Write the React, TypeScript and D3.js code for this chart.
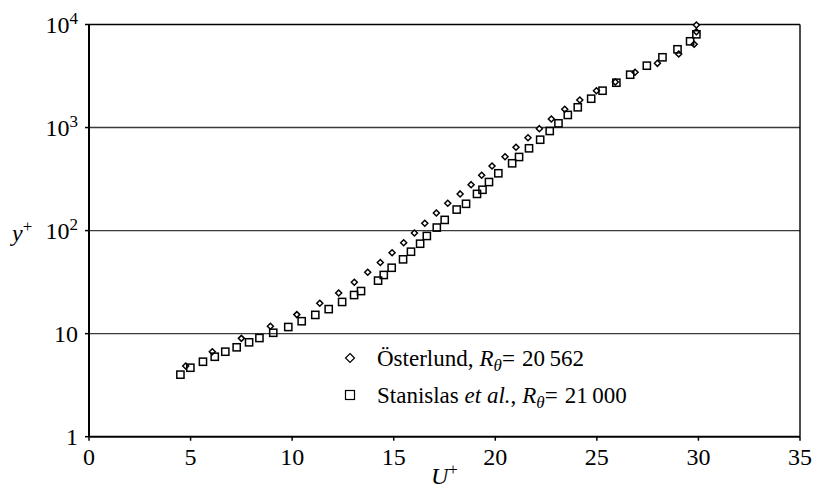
import * as d3 from 'd3';

// Österlund data (diamonds): U+ , y+
const osterU = [4.76, 6.07, 7.5, 8.93, 10.23, 11.36, 12.29, 13.06, 13.72, 14.34, 14.92, 15.49, 16.02, 16.53, 17.1, 17.66, 18.27, 18.81, 19.33, 19.84, 20.48, 21.02, 21.61, 22.17, 22.76, 23.42, 24.16, 24.98, 25.91, 26.88, 27.98, 29.03, 29.79, 29.9, 29.9];
const osterY = [4.86, 6.68, 9.0, 11.8, 15.3, 19.7, 24.8, 31.5, 39.4, 49, 61, 76.3, 94.8, 118, 148, 184, 227, 279, 344, 424, 521, 643, 797, 975, 1211, 1504, 1850, 2278, 2768, 3437, 4200, 5175, 6425, 8510, 9890];

// Stanislas et al. data (squares)
const stanU = [4.5, 4.99, 5.61, 6.19, 6.71, 7.27, 7.88, 8.39, 9.07, 9.81, 10.47, 11.14, 11.8, 12.46, 13.05, 13.39, 14.23, 14.51, 14.9, 15.46, 15.85, 16.3, 16.63, 17.12, 17.51, 18.1, 18.56, 19.1, 19.37, 19.69, 20.15, 20.83, 21.17, 21.66, 22.21, 22.68, 23.11, 23.57, 24.06, 24.72, 25.28, 25.96, 26.64, 27.46, 28.23, 28.97, 29.59, 29.9];
const stanY = [4.0, 4.67, 5.34, 5.97, 6.68, 7.37, 8.24, 9.07, 10.2, 11.6, 13.2, 15.2, 17.3, 20.3, 23.7, 25.9, 32.7, 37.1, 43.6, 52.6, 62.4, 74.6, 88.7, 107, 127, 160, 182, 227, 249, 296, 360, 450, 518, 629, 762, 926, 1099, 1325, 1572, 1905, 2278, 2724, 3258, 3985, 4805, 5745, 6870, 8035];

const xTicks = [0, 5, 10, 15, 20, 25, 30, 35];
const yTicks = [1, 10, 100, 1000, 10000];
const yTickLabels = [['1', ''], ['10', ''], ['10', '2'], ['10', '3'], ['10', '4']];

const font = 'Times New Roman, Liberation Serif, Tinos, DejaVu Serif, serif';

export default function App() {
  const width = 813;
  const height = 489;
  const margin = { left: 89, right: 13, top: 24.5, bottom: 52.3 };

  const x = d3.scaleLinear().domain([0, 35]).range([margin.left, width - margin.right]);
  const y = d3.scaleLog().domain([1, 10000]).range([height - margin.bottom, margin.top]);

  const x0 = x(0);
  const x1 = x(35);
  const yb = y(1);
  const yt = y(10000);

  return (
    <div style={{ position: 'absolute', left: 0, top: 0, fontFamily: font }}>
      <svg width={width} height={height} style={{ display: 'block', background: 'white' }}>
        {/* gridlines */}
        {[10, 100, 1000].map((v) => (
          <line key={v} x1={x0} x2={x1} y1={y(v)} y2={y(v)} stroke="#3a3a3a" strokeWidth={1.4} />
        ))}
        {/* frame */}
        <line x1={x0} x2={x1} y1={yt} y2={yt} stroke="#000" strokeWidth={1.6} />
        <line x1={x1} x2={x1} y1={yt} y2={yb} stroke="#000" strokeWidth={1.4} />
        <line x1={x0} x2={x0} y1={yt} y2={yb} stroke="#000" strokeWidth={2} />
        <line x1={x0} x2={x1} y1={yb} y2={yb} stroke="#000" strokeWidth={2} />

        {/* x ticks */}
        {xTicks.map((t) => (
          <g key={t}>
            <line x1={x(t)} x2={x(t)} y1={yb} y2={yb + 4} stroke="#000" strokeWidth={1.5} />
            <text x={x(t)} y={yb + 28} textAnchor="middle" fontSize={24} fontFamily={font}>
              {t}
            </text>
          </g>
        ))}

        {/* y ticks */}
        {yTicks.map((t, i) => (
          <g key={t}>
            <line x1={x0 - 4} x2={x0} y1={y(t)} y2={y(t)} stroke="#000" strokeWidth={1.5} />
            <text x={78} y={y(t) + 8} textAnchor="end" fontSize={24} fontFamily={font}>
              {yTickLabels[i][0]}
              {yTickLabels[i][1] && (
                <tspan dy={-9} fontSize={17}>
                  {yTickLabels[i][1]}
                </tspan>
              )}
            </text>
          </g>
        ))}

        {/* axis labels */}
        <text x={12} y={241} fontSize={24} fontStyle="italic" fontFamily={font}>
          y<tspan fontStyle="normal" fontSize={17} dy={-9}>+</tspan>
        </text>
        <text x={431} y={484} fontSize={24} fontStyle="italic" fontFamily={font}>
          U<tspan fontStyle="normal" fontSize={17} dy={-9}>+</tspan>
        </text>

        {/* Österlund diamonds */}
        {osterU.map((u, i) => {
          const cx = x(u);
          const cy = y(osterY[i]);
          const r = 3;
          return (
            <path
              key={'d' + i}
              d={`M${cx},${cy - r}L${cx + r},${cy}L${cx},${cy + r}L${cx - r},${cy}Z`}
              fill="white"
              stroke="#000"
              strokeWidth={1.5}
            />
          );
        })}

        {/* Stanislas squares */}
        {stanU.map((u, i) => {
          const cx = x(u);
          const cy = y(stanY[i]);
          return (
            <rect
              key={'s' + i}
              x={cx - 3.6}
              y={cy - 3.6}
              width={7.2}
              height={7.2}
              fill="none"
              stroke="#000"
              strokeWidth={1.5}
            />
          );
        })}

        {/* legend */}
        <path d="M350,353.5L354.5,358L350,362.5L345.5,358Z" fill="white" stroke="#000" strokeWidth={1.2} />
        <text x={377} y={365.5} fontSize={23} fontFamily={font}>
          Österlund,
          <tspan fontStyle="italic" dx={6}>R</tspan>
          <tspan fontStyle="italic" fontSize={17} dy={5}>θ</tspan>
          <tspan dy={-5}>=</tspan>
          <tspan dx={7}>20{'\u2009'}562</tspan>
        </text>
        <rect x={345.5} y={390.5} width={9} height={9} fill="none" stroke="#000" strokeWidth={1.2} />
        <text x={377} y={402.5} fontSize={23} fontFamily={font}>
          Stanislas <tspan fontStyle="italic">et al.</tspan>,
          <tspan fontStyle="italic" dx={6}>R</tspan>
          <tspan fontStyle="italic" fontSize={17} dy={5}>θ</tspan>
          <tspan dy={-5}>=</tspan>
          <tspan dx={7}>21{'\u2009'}000</tspan>
        </text>
      </svg>
    </div>
  );
}
